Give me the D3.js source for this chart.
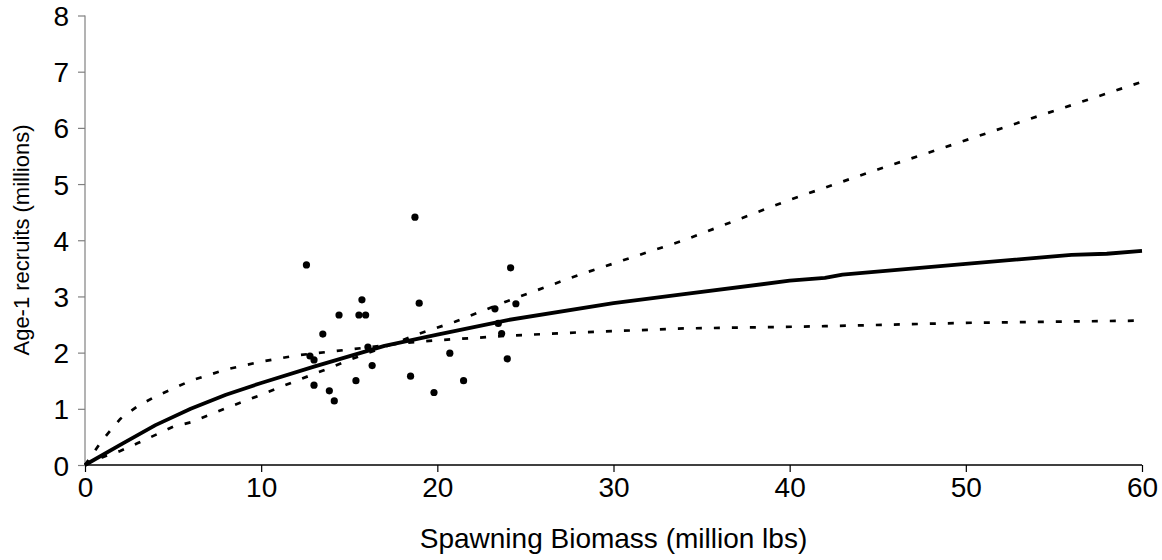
<!DOCTYPE html>
<html>
<head>
<meta charset="utf-8">
<script src="https://cdn.jsdelivr.net/npm/d3@7"></script>
<style>
  html, body { margin: 0; padding: 0; background: #fff; }
  text { font-family: "Liberation Sans", Arial, sans-serif; fill: #000; }
</style>
</head>
<body>
<svg id="chart" width="1162" height="560"></svg>
<script>
// Observed stock-recruit pairs
const obsBiomass = [12.57, 12.77, 13.0, 13.0, 13.5, 13.87, 14.15, 14.42, 15.38, 15.55, 15.72, 15.93, 16.06,
  16.3, 18.48, 18.73, 18.97, 19.81, 20.71, 21.49, 23.27, 23.46, 23.65, 23.97, 24.16, 24.46];
const obsRecruits = [3.56, 1.94, 1.87, 1.42, 2.33, 1.32, 1.14, 2.67, 1.50, 2.67, 2.94, 2.67, 2.10,
  1.77, 1.58, 4.41, 2.88, 1.29, 1.99, 1.50, 2.78, 2.52, 2.34, 1.89, 3.51, 2.87];

// Fitted curve (solid)
const fitX = [0, 2, 4, 6, 8, 10, 13, 17, 20, 24, 30, 34, 40, 42, 43, 50, 56, 58, 60];
const fitY = [0, 0.36, 0.71, 1.0, 1.25, 1.46, 1.75, 2.12, 2.32, 2.58, 2.88, 3.04, 3.28, 3.33, 3.39, 3.58, 3.74, 3.76, 3.81];

// Bound curve that flattens (dashed)
const flatX = [0, 1, 2, 3, 4, 6, 8, 10, 12, 14, 16, 18, 20, 24, 28, 34, 42, 50, 60];
const flatY = [0, 0.45, 0.82, 1.05, 1.22, 1.5, 1.7, 1.84, 1.95, 2.02, 2.09, 2.17, 2.22, 2.30, 2.36, 2.43, 2.47, 2.53, 2.57];

// Bound curve that keeps rising (dashed)
const riseX = [0, 1, 2, 3, 5, 6, 8, 10, 12, 14, 15, 17, 19, 21, 24, 28, 34, 40, 45, 48, 52, 60];
const riseY = [0, 0.14, 0.25, 0.39, 0.68, 0.76, 1.01, 1.25, 1.5, 1.74, 1.87, 2.1, 2.34, 2.55, 2.92, 3.38, 4.0, 4.72, 5.26, 5.57, 5.99, 6.82];

const xTicks = [0, 10, 20, 30, 40, 50, 60];
const yTicks = [0, 1, 2, 3, 4, 5, 6, 7, 8];
const xTitle = "Spawning Biomass (million lbs)";
const yTitle = "Age-1 recruits (millions)";

const svg = d3.select("#chart");
const mLeft = 85, mRight = 1142, mTop = 15.5, mBottom = 465;
const tickFont = 28, titleFont = 28;

const x = d3.scaleLinear().domain([0, 60]).range([mLeft, mRight]);
const y = d3.scaleLinear().domain([0, 8]).range([mBottom, mTop]);

// Y axis
const yAxis = svg.append("g").attr("transform", `translate(${mLeft},0)`)
  .call(d3.axisLeft(y).tickValues(yTicks).tickSize(7).tickFormat(d3.format("d")));
yAxis.select(".domain").remove();
yAxis.selectAll(".tick line").attr("stroke", "#808080").attr("stroke-width", 1.2);
yAxis.selectAll(".tick text")
  .attr("font-size", tickFont)
  .attr("x", -16).attr("dy", "0.36em")
  .attr("text-anchor", "end");

// X axis
const xAxis = svg.append("g").attr("transform", `translate(0,${mBottom})`)
  .call(d3.axisBottom(x).tickValues(xTicks).tickSize(7).tickFormat(d3.format("d")));
xAxis.select(".domain").remove();
xAxis.selectAll(".tick line").attr("stroke", "#000").attr("stroke-width", 1.2);
xAxis.selectAll(".tick text")
  .attr("font-size", tickFont)
  .attr("y", 32).attr("dy", null)
  .attr("text-anchor", "middle");

svg.append("line").attr("x1", mLeft).attr("x2", mLeft).attr("y1", mTop).attr("y2", mBottom)
  .attr("stroke", "#808080").attr("stroke-width", 1.2);
svg.append("line").attr("x1", mLeft).attr("x2", mRight).attr("y1", mBottom).attr("y2", mBottom)
  .attr("stroke", "#000").attr("stroke-width", 1.4);

// Titles
svg.append("text")
  .attr("x", (mLeft + mRight) / 2).attr("y", 548)
  .attr("text-anchor", "middle").attr("font-size", titleFont).text(xTitle);
svg.append("text")
  .attr("transform", `translate(29,240) rotate(-90)`)
  .attr("text-anchor", "middle").attr("font-size", 22).text(yTitle);

// Lines
const lineGen = d3.line().x(d => x(d[0])).y(d => y(d[1]));
const zip = (a, b) => a.map((v, i) => [v, b[i]]);

svg.append("path").datum(zip(flatX, flatY)).attr("d", lineGen)
  .attr("fill", "none").attr("stroke", "#000").attr("stroke-width", 2.7)
  .attr("stroke-dasharray", "6,12");
svg.append("path").datum(zip(riseX, riseY)).attr("d", lineGen)
  .attr("fill", "none").attr("stroke", "#000").attr("stroke-width", 2.7)
  .attr("stroke-dasharray", "6,12");
svg.append("path").datum(zip(fitX, fitY)).attr("d", lineGen)
  .attr("fill", "none").attr("stroke", "#000").attr("stroke-width", 3.8)
  .attr("stroke-linejoin", "round");

// Points
svg.append("g").selectAll("circle").data(zip(obsBiomass, obsRecruits)).join("circle")
  .attr("cx", d => x(d[0])).attr("cy", d => y(d[1])).attr("r", 3.6).attr("fill", "#000");
</script>
</body>
</html>
